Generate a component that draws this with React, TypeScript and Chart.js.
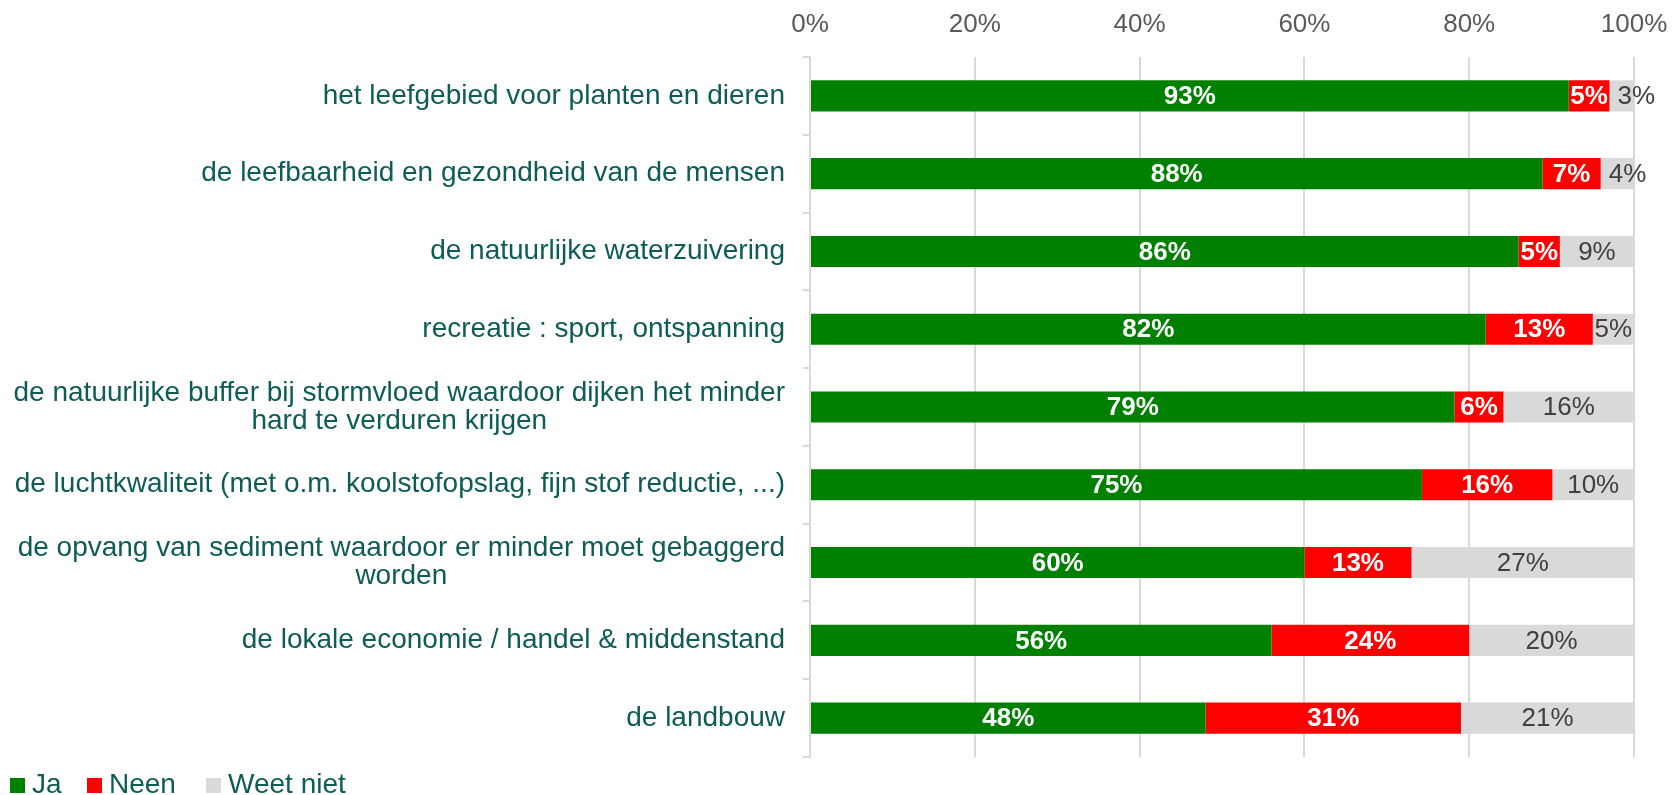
import React, { useEffect, useRef } from "react";
import { Chart, registerables } from "chart.js";

Chart.register(...registerables);

const categories: string[][] = [
  ["het leefgebied voor planten en dieren"],
  ["de leefbaarheid en gezondheid van de mensen"],
  ["de natuurlijke waterzuivering"],
  ["recreatie : sport, ontspanning"],
  ["de natuurlijke buffer bij stormvloed waardoor dijken het minder", "hard te verduren krijgen"],
  ["de luchtkwaliteit (met o.m. koolstofopslag, fijn stof reductie, ...)"],
  ["de opvang van sediment waardoor er minder moet gebaggerd", "worden"],
  ["de lokale economie / handel & middenstand"],
  ["de landbouw"],
];

const ja = [93, 88, 86, 82, 79, 75, 60, 56, 48];
const neen = [5, 7, 5, 13, 6, 16, 13, 24, 31];
const weetNiet = [3, 4, 9, 5, 16, 10, 27, 20, 21];

const seriesNames = ["Ja", "Neen", "Weet niet"];
const seriesColors = ["#008000", "#ff0000", "#d9d9d9"];
const xTickValues = [0, 20, 40, 60, 80, 100];

const FONT = '"Liberation Sans", Arial, Helvetica, sans-serif';
const LABEL_COLOR = "#0d5c56";

const rawSeries = [ja, neen, weetNiet];
const totals = ja.map((_, i) => ja[i] + neen[i] + weetNiet[i]);
// 100%-stacked: each segment is its share of the row total
const shares = rawSeries.map((s) => s.map((v, i) => (v / totals[i]) * 100));

const categoryLabelPlugin = {
  id: "categoryLabels",
  afterDraw(chart: any) {
    const yScale = chart.scales.y;
    const ctx = chart.ctx;
    ctx.save();
    ctx.font = `28px ${FONT}`;
    ctx.fillStyle = LABEL_COLOR;
    ctx.textBaseline = "middle";
    ctx.textAlign = "center";
    const right = chart.chartArea.left - 25;
    const lh = 28;
    categories.forEach((lines, i) => {
      const cy = yScale.getPixelForTick(i);
      const maxW = Math.max(...lines.map((l) => ctx.measureText(l).width));
      const cx = right - maxW / 2;
      lines.forEach((l, j) => {
        ctx.fillText(l, cx, cy + (j - (lines.length - 1) / 2) * lh);
      });
    });
    ctx.restore();
  },
};

const dataLabelPlugin = {
  id: "dataLabels",
  afterDatasetsDraw(chart: any) {
    const ctx = chart.ctx;
    ctx.save();
    ctx.textAlign = "center";
    ctx.textBaseline = "middle";
    rawSeries.forEach((vals, di) => {
      const meta = chart.getDatasetMeta(di);
      meta.data.forEach((el: any, i: number) => {
        const { x, base, y } = el.getProps(["x", "base", "y"], true);
        const left = Math.min(x, base);
        const segW = Math.abs(x - base);
        ctx.font = di < 2 ? `bold 26px ${FONT}` : `26px ${FONT}`;
        ctx.fillStyle = di < 2 ? "#ffffff" : "#404040";
        const text = `${vals[i]}%`;
        const w = ctx.measureText(text).width;
        let cx = left + segW / 2;
        if (w > segW) cx = left + 8 + w / 2;
        ctx.fillText(text, cx, y + 1);
      });
    });
    ctx.restore();
  },
};

export default function App() {
  const canvasRef = useRef<HTMLCanvasElement | null>(null);

  useEffect(() => {
    if (!canvasRef.current) return;
    const chart = new Chart(canvasRef.current, {
      type: "bar",
      data: {
        labels: categories,
        datasets: seriesNames.map((name, di) => ({
          label: name,
          data: shares[di],
          backgroundColor: seriesColors[di],
          borderWidth: 0,
          categoryPercentage: 1,
          barPercentage: 0.4,
        })),
      },
      options: {
        indexAxis: "y",
        animation: false,
        responsive: true,
        maintainAspectRatio: false,
        layout: { padding: { top: 7, right: 46, bottom: 38, left: 0 } },
        plugins: {
          legend: { display: false },
          tooltip: { enabled: false },
        },
        scales: {
          x: {
            position: "top",
            stacked: true,
            min: 0,
            max: 100,
            afterBuildTicks: (scale: any) => {
              scale.ticks = xTickValues.map((v) => ({ value: v }));
            },
            afterFit: (scale: any) => {
              scale.height = 50;
              scale.paddingLeft = 0;
              scale.paddingRight = 0;
            },
            ticks: {
              padding: 17,
              color: "#595959",
              font: { family: FONT, size: 26 },
              callback: (v: any) => `${v}%`,
            },
            grid: {
              color: "#d9d9d9",
              lineWidth: 2,
              drawTicks: false,
            },
            border: { display: false },
          },
          y: {
            stacked: true,
            afterFit: (scale: any) => {
              scale.width = 810;
            },
            ticks: { display: false },
            grid: {
              drawOnChartArea: false,
              drawTicks: true,
              tickLength: 7,
              color: "#d9d9d9",
              lineWidth: 2,
            },
            border: { display: true, color: "#d9d9d9", width: 2 },
          },
        },
      },
      plugins: [categoryLabelPlugin, dataLabelPlugin],
    });
    return () => chart.destroy();
  }, []);

  const legendLeft = [10, 87, 206];

  return (
    <div
      style={{
        position: "fixed",
        left: 0,
        top: 0,
        width: 1680,
        height: 795,
        background: "#ffffff",
      }}
    >
      <canvas ref={canvasRef} />
      {seriesNames.map((name, i) => (
        <div
          key={name}
          style={{
            position: "absolute",
            left: legendLeft[i],
            top: 769,
            height: 30,
            display: "flex",
            alignItems: "center",
            fontFamily: FONT,
            fontSize: 28,
            color: LABEL_COLOR,
            lineHeight: "30px",
            whiteSpace: "nowrap",
          }}
        >
          <span
            style={{
              display: "inline-block",
              width: 15,
              height: 15,
              background: seriesColors[i],
              marginRight: 7,
              marginTop: 2,
            }}
          />
          <span>{name}</span>
        </div>
      ))}
    </div>
  );
}
